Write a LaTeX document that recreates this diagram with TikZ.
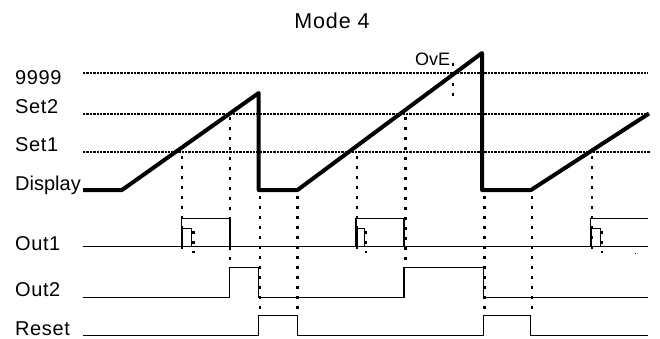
\documentclass[tikz,border=0pt]{standalone}
\usepackage{fontspec}
\setmainfont{Liberation Sans}
\begin{document}
\begin{tikzpicture}[x=1pt,y=-1pt,
  lbl/.style={font=\fontsize{20}{23}\selectfont\addfontfeature{LetterSpace=3}, anchor=base west, inner sep=0pt},
  trace/.style={line width=4pt, line join=round},
  sig/.style={line width=1.4pt},
  hdot/.style={line width=2.3pt, dash pattern=on 2.4pt off 1pt},
  vdot/.style={line width=2.5pt, dash pattern=on 2.5pt off 7.5pt}]
\useasboundingbox (0,0) rectangle (660,338);
% title and labels
\node[font=\fontsize{21.5}{24}\selectfont\addfontfeature{LetterSpace=4}, anchor=base, inner sep=0pt] (title) at (332,28) {Mode 4};
\node[lbl] (l9999) at (15,84) {9999};
\node[lbl] (lset2) at (15,113) {Set2};
\node[lbl] (lset1) at (15,151.5) {Set1};
\node[lbl, font=\fontsize{20}{23}\selectfont] (ldisp) at (15,190) {Display};
\node[lbl] (lout1) at (15,250) {Out1};
\node[lbl] (lout2) at (15,296.5) {Out2};
\node[lbl] (lreset) at (15,335) {Reset};
\node[font=\fontsize{18}{20}\selectfont, anchor=base west, inner sep=0pt] (ove) at (415,65) {OvE};
% level lines
\draw[hdot] (83,73) -- (648,73);
\draw[hdot] (83,114) -- (649,114);
\draw[hdot] (83,152) -- (650,152);
% display trace
\draw[trace] (83,190) -- (122,190) -- (258.7,93) -- (258.7,190) -- (297.5,190)
  -- (482,53) -- (482,190) -- (531,190) -- (649,113.5);
% Out1
\draw[sig] (83,246.7) -- (648,246.7);
\draw[sig] (181.7,246.7) |- (230,218.3) -- (230,246.7);
\draw[sig] (182.7,246.7) |- (191.7,228.3) -- (191.7,246.7);
\draw[sig] (356,246.7) |- (404,218.3) -- (404,246.7);
\draw[sig] (357,246.7) |- (364.5,228.3) -- (364.5,246.7);
\draw[sig] (590.7,246.7) |- (648,218.3);
\draw[sig] (591.7,246.7) |- (600.7,228.3) -- (600.7,246.7);
% Out2
\draw[sig] (83,297.3) -- (229.3,297.3) |- (258.3,267.7) |- (404,297.3) |- (483.3,267.7) |- (648,297.3);
% Reset
\draw[sig] (83,335.7) -- (258.3,335.7) |- (297.3,315.7) |- (483.3,335.7) |- (530.7,315.7) |- (648,335.7);
% vertical markers
\draw[vdot] (182,156) -- (182,253);
\draw[vdot] (193.5,231) -- (193.5,253);
\draw[vdot] (230,117) -- (230,266);
\draw[vdot] (260,196) -- (260,316);
\draw[vdot] (297.7,196) -- (297.7,316);
\draw[vdot] (357,156) -- (357,253);
\draw[vdot] (366,231) -- (366,253);
\draw[vdot] (405.7,117) -- (405.7,266);
\draw[vdot] (453,63) -- (453,96);
\draw[vdot] (484.5,196) -- (484.5,316);
\draw[vdot] (532,196) -- (532,316);
\draw[vdot] (592,156) -- (592,253);
\draw[vdot] (602,231) -- (602,253);
\fill (634.5,252.5) rectangle (636,254);
\end{tikzpicture}
\end{document}
